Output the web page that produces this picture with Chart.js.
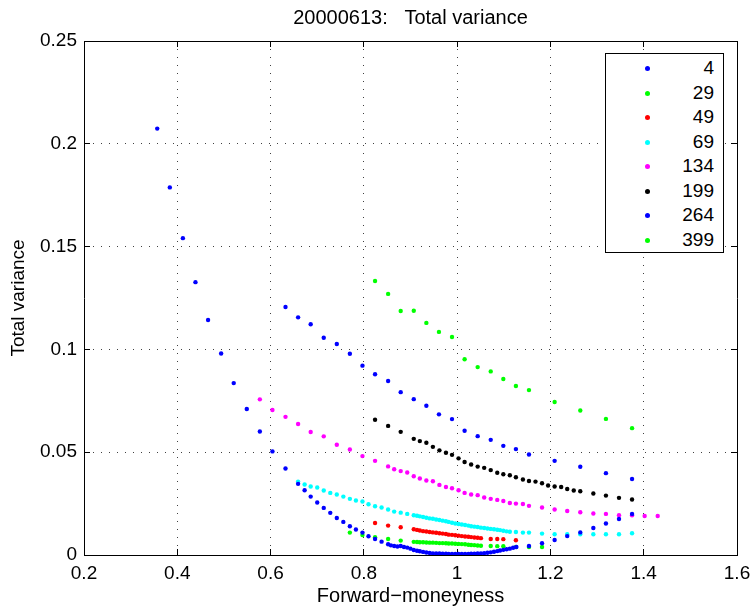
<!DOCTYPE html>
<html>
<head>
<meta charset="utf-8">
<script src="https://cdn.jsdelivr.net/npm/chart.js@4.4.1/dist/chart.umd.min.js"></script>
<style>
  html, body { margin: 0; padding: 0; background: #fff; }
  #wrap { position: relative; width: 753px; height: 608px; }
  #legend {
    position: absolute; left: 605px; top: 53px; width: 119px; height: 200px;
    box-sizing: border-box; border: 1px solid #000; background: #fff;
    font-family: "Liberation Sans", Arial, sans-serif; font-size: 19px; color: #000;
  }
  #legend .row { position: absolute; left: 0; width: 100%; height: 24px; line-height: 24px; }
  #legend .dot { position: absolute; left: 39px; top: 10px; width: 5px; height: 5px; border-radius: 50%; }
  #legend .lbl { position: absolute; right: 9px; top: 0; }
</style>
</head>
<body>
<div id="wrap">
  <canvas id="chart"></canvas>
  <div id="legend"></div>
</div>
<script>
// maturities (days) shown in the legend
const maturities = [4, 29, 49, 69, 134, 199, 264, 399];

// 4 days
const x4 = [0.357, 0.384, 0.412, 0.439, 0.466, 0.494, 0.521, 0.549, 0.577, 0.604, 0.632, 0.659,
  0.673, 0.686, 0.700, 0.714, 0.728, 0.742, 0.756, 0.770, 0.783, 0.797, 0.810, 0.824, 0.838,
  0.852, 0.858, 0.865, 0.872, 0.879, 0.886, 0.893, 0.900, 0.907, 0.914, 0.920, 0.927, 0.934,
  0.941, 0.948, 0.955, 0.962, 0.969, 0.976, 0.982, 0.989, 0.996, 1.003, 1.010, 1.017, 1.024,
  1.030, 1.037, 1.044, 1.051, 1.058, 1.065, 1.072, 1.079, 1.086, 1.092, 1.099, 1.106, 1.113,
  1.120, 1.127, 1.154, 1.182, 1.209, 1.236, 1.264, 1.292, 1.319, 1.347, 1.375];
const y4 = [0.2074, 0.1788, 0.1541, 0.1327, 0.1143, 0.0980, 0.0836, 0.0710, 0.0601, 0.0504, 0.0421, 0.0346,
  0.0315, 0.0284, 0.0255, 0.0229, 0.0205, 0.0180, 0.0161, 0.0140, 0.0124, 0.0109, 0.0091, 0.0078, 0.0065,
  0.0052, 0.0047, 0.0044, 0.0041, 0.0044, 0.0039, 0.0036, 0.0031, 0.0024, 0.0021, 0.0018, 0.0015, 0.0012,
  0.0010, 0.0008, 0.0007, 0.0007, 0.0006, 0.0006, 0.0005, 0.0005, 0.0005, 0.0005, 0.0005, 0.0005, 0.0005,
  0.0006, 0.0006, 0.0007, 0.0008, 0.0009, 0.0011, 0.0013, 0.0016, 0.0019, 0.0022, 0.0025, 0.0028, 0.0031,
  0.0035, 0.0039, 0.0044, 0.0057, 0.0073, 0.0092, 0.0110, 0.0131, 0.0153, 0.0175, 0.0200];

// 29 days
const x29 = [0.770, 0.797, 0.824, 0.852, 0.879, 0.907, 0.914, 0.920, 0.927, 0.934, 0.941, 0.948,
  0.955, 0.962, 0.969, 0.976, 0.982, 0.989, 0.996, 1.003, 1.010, 1.017, 1.024, 1.030, 1.037,
  1.044, 1.051, 1.072, 1.086, 1.099, 1.126, 1.154, 1.182];
const y29 = [0.0109, 0.0097, 0.0086, 0.0078, 0.0070, 0.0064, 0.0063, 0.0062, 0.0062, 0.0061, 0.0060, 0.0060,
  0.0059, 0.0058, 0.0058, 0.0057, 0.0056, 0.0056, 0.0055, 0.0054, 0.0053, 0.0052, 0.0050, 0.0049, 0.0048,
  0.0046, 0.0045, 0.0044, 0.0043, 0.0043, 0.0039, 0.0039, 0.0039];

// 49 days
const x49 = [0.824, 0.852, 0.879, 0.907, 0.914, 0.920, 0.927, 0.934, 0.941, 0.948, 0.955, 0.962,
  0.969, 0.976, 0.982, 0.989, 0.996, 1.003, 1.010, 1.017, 1.024, 1.030, 1.037, 1.044, 1.051,
  1.072, 1.086, 1.099, 1.126];
const y49 = [0.0156, 0.0143, 0.0135, 0.0125, 0.0122, 0.0119, 0.0116, 0.0114, 0.0112, 0.0110, 0.0108, 0.0106,
  0.0104, 0.0102, 0.0099, 0.0098, 0.0096, 0.0094, 0.0092, 0.0090, 0.0089, 0.0087, 0.0085, 0.0084, 0.0082,
  0.0078, 0.0078, 0.0077, 0.0072];

// 69 days
const x69 = [0.659, 0.673, 0.686, 0.700, 0.714, 0.728, 0.742, 0.756, 0.770, 0.783, 0.797, 0.810,
  0.824, 0.838, 0.852, 0.865, 0.879, 0.893, 0.907, 0.914, 0.920, 0.927, 0.934, 0.941, 0.948,
  0.955, 0.962, 0.969, 0.976, 0.982, 0.989, 0.996, 1.003, 1.010, 1.017, 1.024, 1.030, 1.037,
  1.044, 1.051, 1.058, 1.065, 1.072, 1.079, 1.086, 1.092, 1.099, 1.106, 1.113, 1.126, 1.141,
  1.154, 1.182, 1.209, 1.236, 1.264, 1.292, 1.319, 1.347, 1.375];
const y69 = [0.0357, 0.0343, 0.0333, 0.0328, 0.0314, 0.0302, 0.0294, 0.0284, 0.0273, 0.0265, 0.0260, 0.0247,
  0.0237, 0.0231, 0.0221, 0.0211, 0.0206, 0.0200, 0.0193, 0.0191, 0.0188, 0.0185, 0.0181, 0.0178, 0.0176,
  0.0173, 0.0170, 0.0167, 0.0164, 0.0161, 0.0157, 0.0153, 0.0151, 0.0148, 0.0146, 0.0143, 0.0140, 0.0138,
  0.0136, 0.0133, 0.0131, 0.0129, 0.0127, 0.0125, 0.0123, 0.0121, 0.0118, 0.0115, 0.0113, 0.0112, 0.0109,
  0.0109, 0.0104, 0.0101, 0.0101, 0.0101, 0.0101, 0.0101, 0.0101, 0.0106];

// 134 days
const x134 = [0.577, 0.604, 0.632, 0.659, 0.686, 0.714, 0.742, 0.770, 0.797, 0.824, 0.852, 0.865,
  0.879, 0.893, 0.907, 0.920, 0.934, 0.948, 0.962, 0.976, 0.989, 1.003, 1.016, 1.030, 1.044,
  1.058, 1.072, 1.086, 1.099, 1.113, 1.126, 1.141, 1.154, 1.182, 1.209, 1.236, 1.264, 1.292,
  1.319, 1.347, 1.375, 1.402, 1.430];
const y134 = [0.0757, 0.0705, 0.0672, 0.0637, 0.0598, 0.0577, 0.0536, 0.0513, 0.0481, 0.0458, 0.0431, 0.0417,
  0.0408, 0.0401, 0.0383, 0.0372, 0.0362, 0.0359, 0.0341, 0.0331, 0.0325, 0.0315, 0.0302, 0.0294, 0.0291,
  0.0280, 0.0273, 0.0268, 0.0263, 0.0253, 0.0250, 0.0248, 0.0239, 0.0231, 0.0221, 0.0214, 0.0208, 0.0202,
  0.0200, 0.0193, 0.0193, 0.0190, 0.0190];

// 199 days
const x199 = [0.824, 0.852, 0.879, 0.907, 0.920, 0.934, 0.948, 0.962, 0.976, 0.989, 1.003, 1.016,
  1.030, 1.044, 1.058, 1.072, 1.086, 1.099, 1.113, 1.126, 1.141, 1.154, 1.168, 1.182, 1.195,
  1.209, 1.223, 1.236, 1.250, 1.264, 1.292, 1.319, 1.347, 1.375];
const y199 = [0.0658, 0.0628, 0.0599, 0.0565, 0.0554, 0.0546, 0.0526, 0.0509, 0.0497, 0.0487, 0.0470, 0.0452,
  0.0440, 0.0430, 0.0424, 0.0413, 0.0400, 0.0393, 0.0388, 0.0378, 0.0367, 0.0360, 0.0357, 0.0349, 0.0338,
  0.0333, 0.0331, 0.0321, 0.0314, 0.0310, 0.0299, 0.0289, 0.0278, 0.0270];

// 264 days
const x264 = [0.632, 0.659, 0.686, 0.714, 0.742, 0.770, 0.797, 0.824, 0.852, 0.879, 0.907, 0.934,
  0.961, 0.989, 1.016, 1.044, 1.072, 1.099, 1.126, 1.154, 1.209, 1.264, 1.319, 1.375];
const y264 = [0.1206, 0.1156, 0.1122, 0.1057, 0.1026, 0.0979, 0.0921, 0.0879, 0.0846, 0.0792, 0.0758, 0.0726,
  0.0684, 0.0661, 0.0604, 0.0578, 0.0560, 0.0531, 0.0515, 0.0489, 0.0458, 0.0429, 0.0398, 0.0370];

// 399 days
const x399 = [0.824, 0.852, 0.879, 0.907, 0.934, 0.961, 0.989, 1.016, 1.044, 1.072, 1.099, 1.126,
  1.154, 1.209, 1.264, 1.319, 1.375];
const y399 = [0.1333, 0.1270, 0.1187, 0.1188, 0.1129, 0.1085, 0.1060, 0.0952, 0.0914, 0.0893, 0.0856, 0.0822,
  0.0802, 0.0744, 0.0703, 0.0662, 0.0617];

const xTicks = [0.2, 0.4, 0.6, 0.8, 1.0, 1.2, 1.4, 1.6];
const xTickLabels = ['0.2', '0.4', '0.6', '0.8', '1', '1.2', '1.4', '1.6'];
const yTicks = [0, 0.05, 0.1, 0.15, 0.2, 0.25];
const yTickLabels = ['0', '0.05', '0.1', '0.15', '0.2', '0.25'];

const seriesX = [x4, x29, x49, x69, x134, x199, x264, x399];
const seriesY = [y4, y29, y49, y69, y134, y199, y264, y399];
const colors = ['#0000ff', '#00ff00', '#ff0000', '#00ffff', '#ff00ff', '#000000', '#0000ff', '#00ff00'];

const FONT = '"Liberation Sans", Arial, Helvetica, sans-serif';
Chart.defaults.font.family = FONT;
Chart.defaults.color = '#000';

const datasets = maturities.map((m, i) => ({
  label: String(m),
  data: seriesX[i].map((x, j) => ({ x: x, y: seriesY[i][j] })),
  backgroundColor: colors[i],
  borderColor: colors[i],
  borderWidth: 0,
  pointRadius: 2.2,
  pointHoverRadius: 2.2,
  showLine: false
}));

const setTicks = (vals) => (scale) => { scale.ticks = vals.map(v => ({ value: v })); };

// fixed box sizes so the plot area lands where MATLAB put it
const fixH = (h) => (s) => { s.height = h; s.paddingLeft = 0; s.paddingRight = 0; };
const fixW = (w) => (s) => { s.width = w; s.paddingTop = 0; s.paddingBottom = 0; };

const gridOpts = {
  color: 'rgba(0,0,0,0.75)',
  lineWidth: 1,
  drawTicks: true,
  tickLength: -6,
  tickColor: '#000',
  tickWidth: 1
};
const borderOpts = { display: true, color: '#000', width: 1, dash: [1, 7] };

new Chart(document.getElementById('chart'), {
  type: 'scatter',
  data: { datasets },
  options: {
    responsive: true,
    maintainAspectRatio: false,
    animation: false,
    events: [],
    layout: { padding: { left: 0, right: 16, top: 0, bottom: 0 } },
    plugins: {
      legend: { display: false },
      tooltip: { enabled: false },
      title: {
        display: true,
        fullSize: false,
        text: '20000613:   Total variance',
        color: '#000',
        font: { size: 20, weight: 'normal', family: FONT },
        padding: { top: 6, bottom: 11 }
      }
    },
    scales: {
      x: {
        type: 'linear', position: 'bottom', min: 0.2, max: 1.6,
        afterBuildTicks: setTicks(xTicks),
        afterFit: fixH(53),
        grid: gridOpts,
        border: borderOpts,
        ticks: { font: { size: 19 }, padding: 13, maxRotation: 0, callback: (v, i) => xTickLabels[i] },
        title: { display: true, text: 'Forward\u2212moneyness', font: { size: 20 }, padding: { top: 0, bottom: 0 } }
      },
      y: {
        type: 'linear', position: 'left', min: 0, max: 0.25,
        afterBuildTicks: setTicks(yTicks),
        afterFit: fixW(84),
        grid: gridOpts,
        border: borderOpts,
        ticks: { font: { size: 19 }, padding: 13, callback: (v, i) => yTickLabels[i] },
        title: { display: true, text: 'Total variance', font: { size: 19 }, padding: { top: 7, bottom: 7 } }
      },
      x2: {
        type: 'linear', position: 'top', min: 0.2, max: 1.6,
        afterBuildTicks: setTicks(xTicks),
        afterFit: fixH(0),
        grid: Object.assign({}, gridOpts, { drawOnChartArea: false }),
        border: { display: true, color: '#000', width: 1 },
        ticks: { display: false }
      },
      y2: {
        type: 'linear', position: 'right', min: 0, max: 0.25,
        afterBuildTicks: setTicks(yTicks),
        afterFit: fixW(0),
        grid: Object.assign({}, gridOpts, { drawOnChartArea: false }),
        border: { display: true, color: '#000', width: 1 },
        ticks: { display: false }
      }
    }
  }
});

// legend box, MATLAB style
const legend = document.getElementById('legend');
maturities.forEach((m, i) => {
  const row = document.createElement('div');
  row.className = 'row';
  row.style.top = (2 + i * 24.5) + 'px';
  row.innerHTML = '<span class="dot" style="background:' + colors[i] + '"></span><span class="lbl">' + m + '</span>';
  legend.appendChild(row);
});
</script>
</body>
</html>
